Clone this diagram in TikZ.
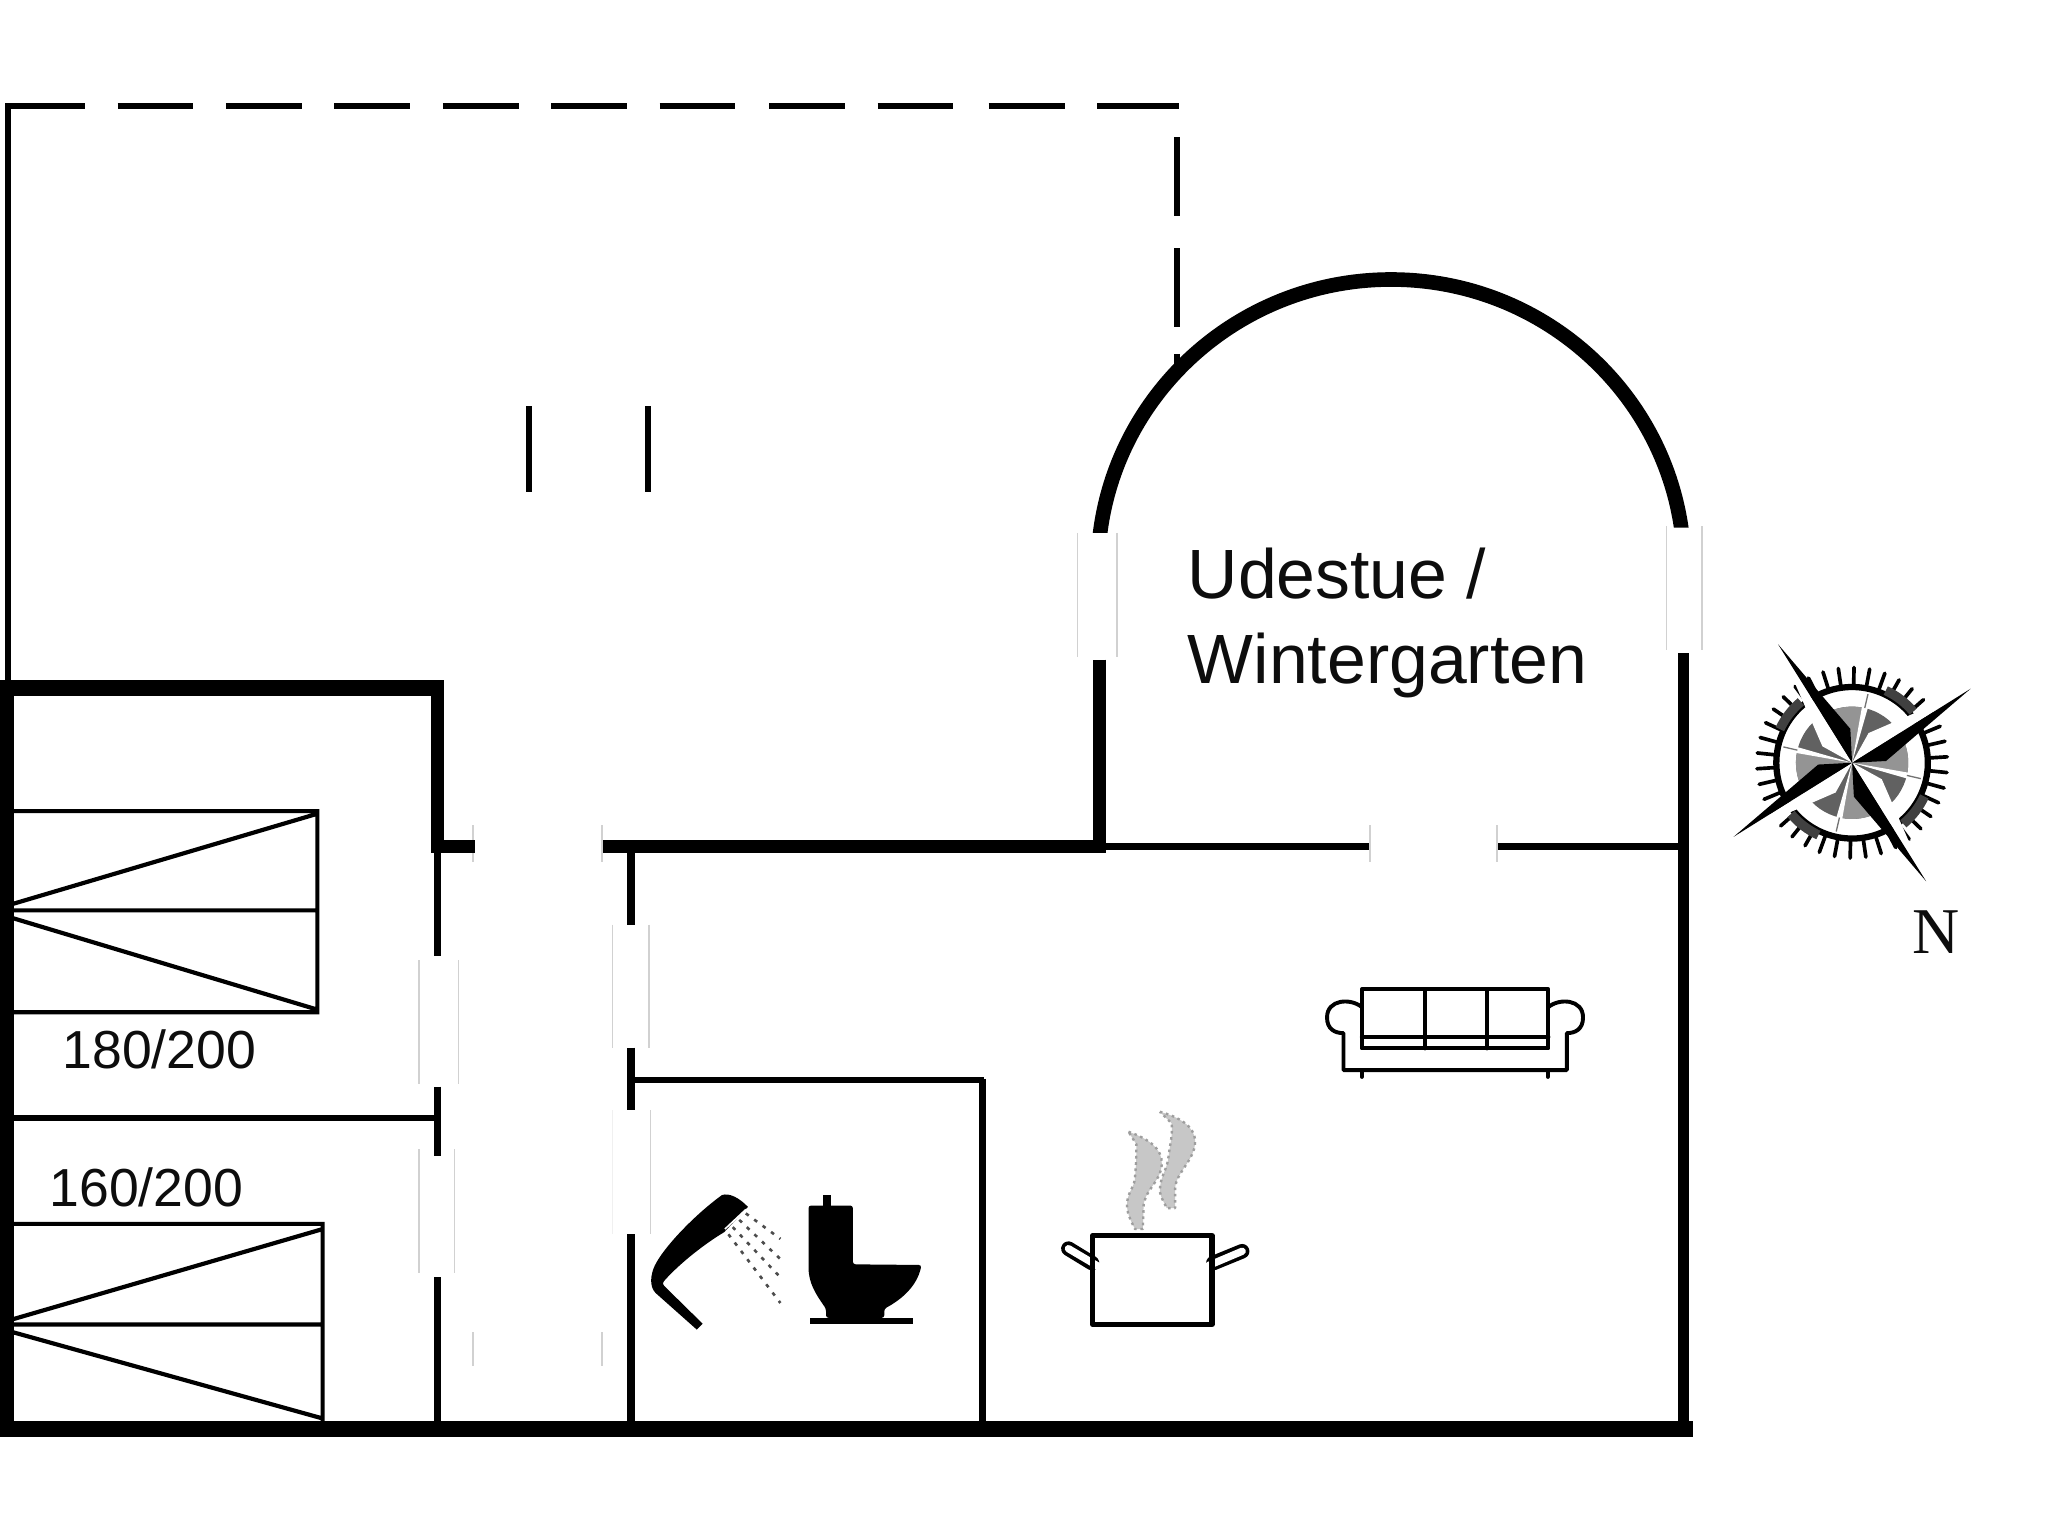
\documentclass[tikz,border=0pt]{standalone}
\usepackage{fontspec}
\setmainfont{Liberation Sans}
\newfontfamily\nfont{Liberation Serif}
\usetikzlibrary{calc}
\tikzset{
  x=0.5pt,y=-0.5pt,
  heavy/.style={line width=5pt,line cap=butt},
  dashwall/.style={line width=2.5pt},
  thin wall/.style={line width=2.2pt,line cap=butt},
  bedline/.style={line width=1.6pt},
  faint/.style={line width=0.6pt,draw=black!18},
  sofa/.style={line width=1.5pt,line cap=round,line join=round},
  label/.style={inner sep=0pt,anchor=base west,text=black!95},
  steamy/.style={fill=black!22,draw=black!38,line width=0.9pt,dash pattern=on 1pt off 1.4pt,line join=round},
}
\begin{document}
\begin{tikzpicture}
\useasboundingbox (0,0) rectangle (1568,1176);
\fill[white] (0,0) rectangle (1568,1176);
% outer dashed line
\draw[dashwall] (6,527) -- (6,81) -- (65,81);
\foreach \a in {90,173,256,339,422,505,589,672,757}
  \draw[dashwall] (\a,81) -- (\a+58,81);
\draw[dashwall] (840,81) -- (903,81);
\draw[dashwall] (901,105) -- (901,165) (901,190) -- (901,250) (901,271) -- (901,285);
\draw[dashwall] (405,311) -- (405,377) (496,311) -- (496,377);
% winter garden
\begin{scope}
\clip (780,150) -- (1340,150) -- (1340,404) -- (1066,404) -- (1066,408) -- (780,408) -- cycle;
\draw[line width=5.6pt] (840.5,436) arc[start angle=180,end angle=360,x radius=224.5,y radius=222];
\end{scope}
\draw[heavy] (842,505) -- (842,653);
\draw[line width=4.4pt] (1289,500) -- (1289,1094);
\draw[faint] (825,408) -- (825,503) (855,408) -- (855,503) (1276,403) -- (1276,498) (1303,403) -- (1303,498);
% horizontal wall
\draw[heavy] (460,648) -- (847,648);
\draw[line width=2.4pt] (847,648) -- (1049,648) (1146,648) -- (1285,648);
\draw[faint] (1049,632) -- (1049,660) (1146,632) -- (1146,660) (461,632) -- (461,660) (362,632) -- (362,660);
% bedroom walls
\draw[line width=6pt] (0,527) -- (340,527);
\draw[heavy] (335,527) -- (335,653) (330,648) -- (364,648);
\draw[line width=5.6pt] (5,527) -- (5,1094);
\draw[line width=6pt] (0,1094) -- (1296,1094);
\draw[thin wall,line width=2.8pt] (335,650) -- (335,732) (335,832) -- (335,885) (335,978) -- (335,1090);
\draw[thin wall] (10,856) -- (335,856);
\draw[faint] (321,735) -- (321,830) (351,735) -- (351,830) (321,880) -- (321,975) (348,880) -- (348,975);
\draw[faint] (362,1020) -- (362,1046) (461,1020) -- (461,1046);
% corridor right
\draw[line width=2.8pt] (483,652) -- (483,708) (483,802) -- (483,850) (483,945) -- (483,1090);
\draw[faint] (469,708) -- (469,802) (497,708) -- (497,802) (498,850) -- (498,945);
\draw[faint,draw=black!6] (469,850) -- (469,945);
\draw[thin wall] (483,827) -- (753,827);
\draw[line width=2.8pt] (752,826) -- (752,1090);
% beds
\draw[bedline] (10,621) -- (243,621) -- (243,775) -- (10,775) (10,697) -- (243,697)
  (10,692) -- (243,623) (10,703) -- (243,773);
\draw[bedline] (10,937) -- (247,937) -- (247,1088) (10,1014) -- (247,1014)
  (10,1010) -- (247,941) (10,1020) -- (247,1086);
% labels
\node[label,font=\fontsize{26.7}{32}\selectfont] (t1) at (909,458) {Udestue /};
\node[label,font=\fontsize{26.7}{32}\selectfont] (t2) at (909,523) {Wintergarten};
\node[label,font=\fontsize{20.5}{24}\selectfont] (t3) at (47.5,818) {180/200};
\node[label,font=\fontsize{20.5}{24}\selectfont] (t4) at (37.5,924) {160/200};
\node[label,font=\nfont\fontsize{25}{30}\selectfont] (t5) at (1464,730) {N};
% sofa
\begin{scope}[sofa]
\draw (1042.6,757.5) rectangle (1185.5,802.7);
\draw (1091,757.5) -- (1091,802.7) (1138.3,757.5) -- (1138.3,802.7);
\draw (1042.6,793.8) -- (1185.5,793.8);
\draw (1042.6,771) .. controls (1034,764) and (1016,765) .. (1016,779) .. controls (1016,788) and (1022,791) .. (1028.6,791) -- (1028.6,819.3) -- (1199.6,819.3) -- (1199.6,791) .. controls (1206,791) and (1212,788) .. (1212,779) .. controls (1212,765) and (1194,764) .. (1185.5,771);
\draw (1042.6,819.3) -- (1042.6,824.5) (1185,819.3) -- (1185,824.5);
\end{scope}
% pot
\draw[line width=5.6pt,line cap=round] (836,967) -- (818,956) (929,967) -- (951,958);
\draw[line width=2.8pt,white,line cap=round] (840,969) -- (818,956) (925,969) -- (951,958);
\draw[line width=2pt,line join=round] (836.6,946) rectangle (928,1014);
% steam
\draw[steamy] (864,866.5) .. controls (880,872) and (890,880) .. (889.5,891) .. controls (889,905) and (875,912) .. (875.5,925) -- (875,941) -- (869,941) .. controls (866,935) and (862,928) .. (863,920) .. controls (864,912) and (869,908) .. (869,901) .. controls (870,890) and (870,882) .. (870,876) -- cycle;
\draw[steamy] (888,851.2) .. controls (902,855) and (915,862) .. (915,874) .. controls (915,888) and (900,898) .. (899.7,910) -- (899.7,925) -- (893.3,925) .. controls (890,918) and (887,914) .. (888.2,908.7) .. controls (889,900) and (894,894) .. (894.6,885.7) .. controls (896,875) and (898,868) .. (897,860) -- cycle;
% toilet
\fill (630.4,915) rectangle (636.4,925);
\fill[rounded corners=1pt] (619,923) -- (653,923) -- (653,968) -- (705.5,968.5) .. controls (702,985) and (690,995) .. (677,1002) -- (677,1009) -- (632.4,1009) -- (632.4,1002) .. controls (624,990) and (619,982) .. (619,968) -- cycle;
\fill (620,1009) rectangle (699,1013.5);
% shower
\fill[line join=round] (552.7,915) .. controls (558,913) and (566,917) .. (572.6,924) -- (554.4,943.4) .. controls (540,952) and (522,966) .. (510,979) .. controls (507,982) and (507,983) .. (509,985) -- (538,1013.5) -- (533.5,1018) -- (502,990) .. controls (497,985) and (498,976) .. (501.3,969) .. controls (508,955) and (532,930) .. cycle;
\draw[line width=0.6pt,white] (555,941) -- (571,926);
\begin{scope}[draw=black!70,line width=1pt,dash pattern=on 1.4pt off 2.6pt]
\draw (571,929) -- (597.5,948.5);
\draw (566,934) -- (597.5,964);
\draw (561,939.5) -- (597.5,978);
\draw (557.7,945) -- (597.5,997.6);
\end{scope}
% compass
\begin{scope}[shift={(1418,584)},rotate=32,y=0.5pt]
\fill[black!62] (0,0) circle[radius=43];
\foreach \r in {0,90,180,270}{
  \fill[black!42] (\r+45:0) -- (\r+45:43) arc[start angle=\r+45,end angle=\r+85,radius=43] -- cycle;
}
\draw[line width=2.4pt] (0,0) circle[radius=58];
\foreach \k in {0,...,37}
  \draw[line width=1.4pt,line cap=round] (\k*9.4737:60) -- (\k*9.4737:73);
\foreach \r in {0,90,180,270}{
  \draw[line width=3.6pt,black!75] (\r+8:61) arc[start angle=\r+8,end angle=\r+33,radius=61];
  \fill[white] (0,0) -- (\r+45-3:52) -- (\r+45+3:52) -- cycle;
  \draw[black!55,line width=0.5pt] (\r+45:43) -- (\r+45:54);
}
\foreach \r in {0,90,180,270}{
  \fill[white] (0,0) -- (\r+29:26) -- (\r:107) -- cycle;
  \fill[black] (0,0) -- (\r-29:26) -- (\r:107) -- cycle;
}
\end{scope}
\end{tikzpicture}
\end{document}
